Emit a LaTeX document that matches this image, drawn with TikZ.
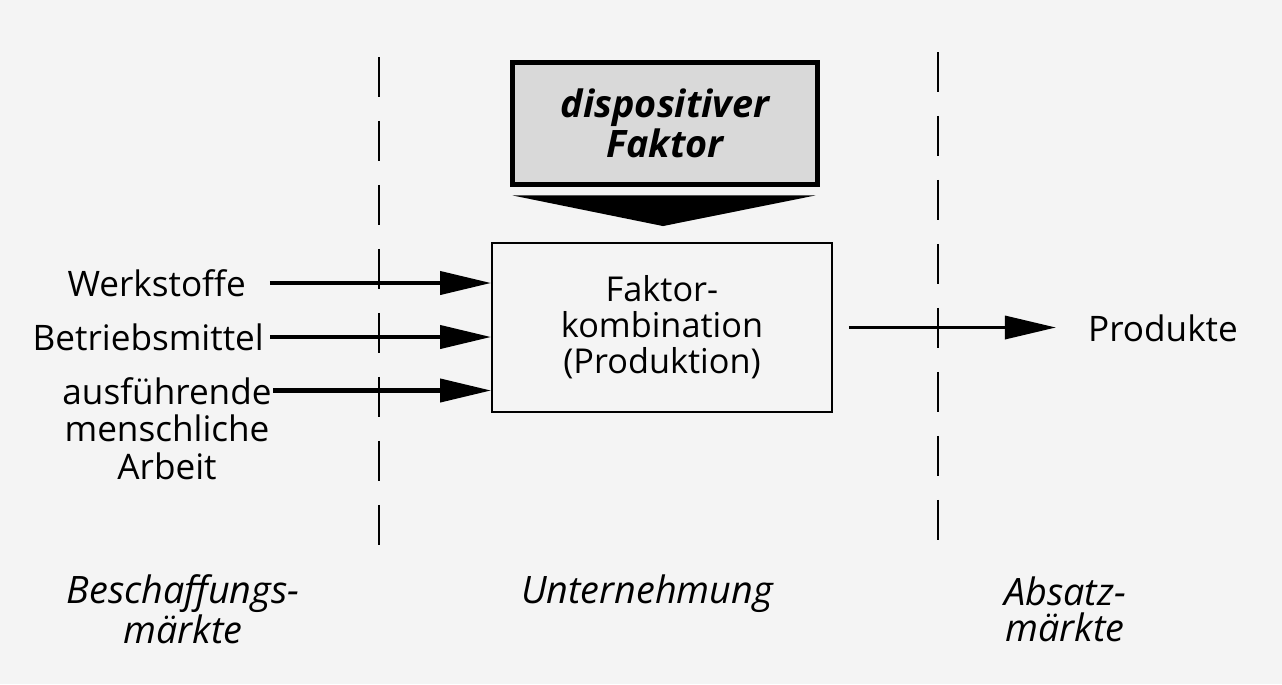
\documentclass[tikz,border=0pt]{standalone}
\usepackage{fontspec}
\setmainfont{Open Sans}
\usepackage{xcolor}
\definecolor{scanpaper}{RGB}{244,244,244}
\usepackage{tikz}
\usetikzlibrary{arrows.meta,positioning,calc}

\begin{document}
\begin{tikzpicture}[
    x=0.02cm, y=-0.02cm,
    unit/.style={rectangle, draw, line width=1.1pt, minimum width=6.8cm, minimum height=3.38cm, align=center, font=\fontsize{19.5}{20.5}\selectfont},
    dispo/.style={rectangle, draw, line width=2.8pt, fill=black!15, minimum width=6.1cm, minimum height=2.44cm, align=center, font=\fontsize{21.5}{20}\selectfont\bfseries\itshape},
    input/.style={align=center, font=\fontsize{20}{21.5}\selectfont},
    market/.style={align=center, font=\fontsize{21.5}{20.5}\selectfont\itshape},
    arrow/.style={-{Triangle[length=1.02cm, width=0.46cm]}, line width=2.3pt},
    divider/.style={line width=1.4pt, dash pattern=on 0.8cm off 0.48cm}
]
\fill[scanpaper] (0,0) rectangle (1282,684);
\useasboundingbox (0,0) rectangle (1282,684);

% Market borders
\draw[divider] (379,57) -- (379,546);
\draw[divider] (938,52) -- (938,540);

% Boxes
\node[dispo] (faktor) at (665,123.5) {dispositiver\\Faktor};
\node[unit] (kombi) at (662,327.5) {Faktor-\\kombination\\(Produktion)};

% Inputs and output
\node[input, anchor=east] (werk) at (252,283) {Werkstoffe};
\node[input, anchor=east] (betrieb) at (270,337) {Betriebsmittel};
\node[input, anchor=north] (arbeit) at (167,371) {ausführende\\menschliche\\Arbeit};
\node[input] (produkte) at (1163,328) {Produkte};

% Market labels
\node[market] (beschaffung) at (183,609) {Beschaffungs-\\märkte};
\node[market] (unternehmung) at (647,594) {Unternehmung};
\node[market] (absatz) at (1065,609) {Absatz-\\märkte};

% Wedge from dispositive factor
\fill ($(faktor.south west)+(2.5,8.5)$) -- ($(faktor.south east)+(-4.5,8.5)$) -- ($(kombi.north)+(1,-16)$) -- cycle;

% Arrows into the combination
\coordinate (arbeitout) at ([yshift=-0.39cm]arbeit.north east);
\draw[arrow] ([xshift=0.36cm]werk.east) -- (werk.east -| kombi.west);
\draw[arrow] (betrieb.east) -- (betrieb.east -| kombi.west);
\draw[arrow] ([xshift=-0.1cm]arbeitout) -- (arbeitout -| kombi.west);

% Arrow to the products
\draw[arrow, line width=2pt, shorten >=0.52cm] ([xshift=0.32cm]kombi.east) -- (kombi.east -| produkte.west);
\end{tikzpicture}
\end{document}
